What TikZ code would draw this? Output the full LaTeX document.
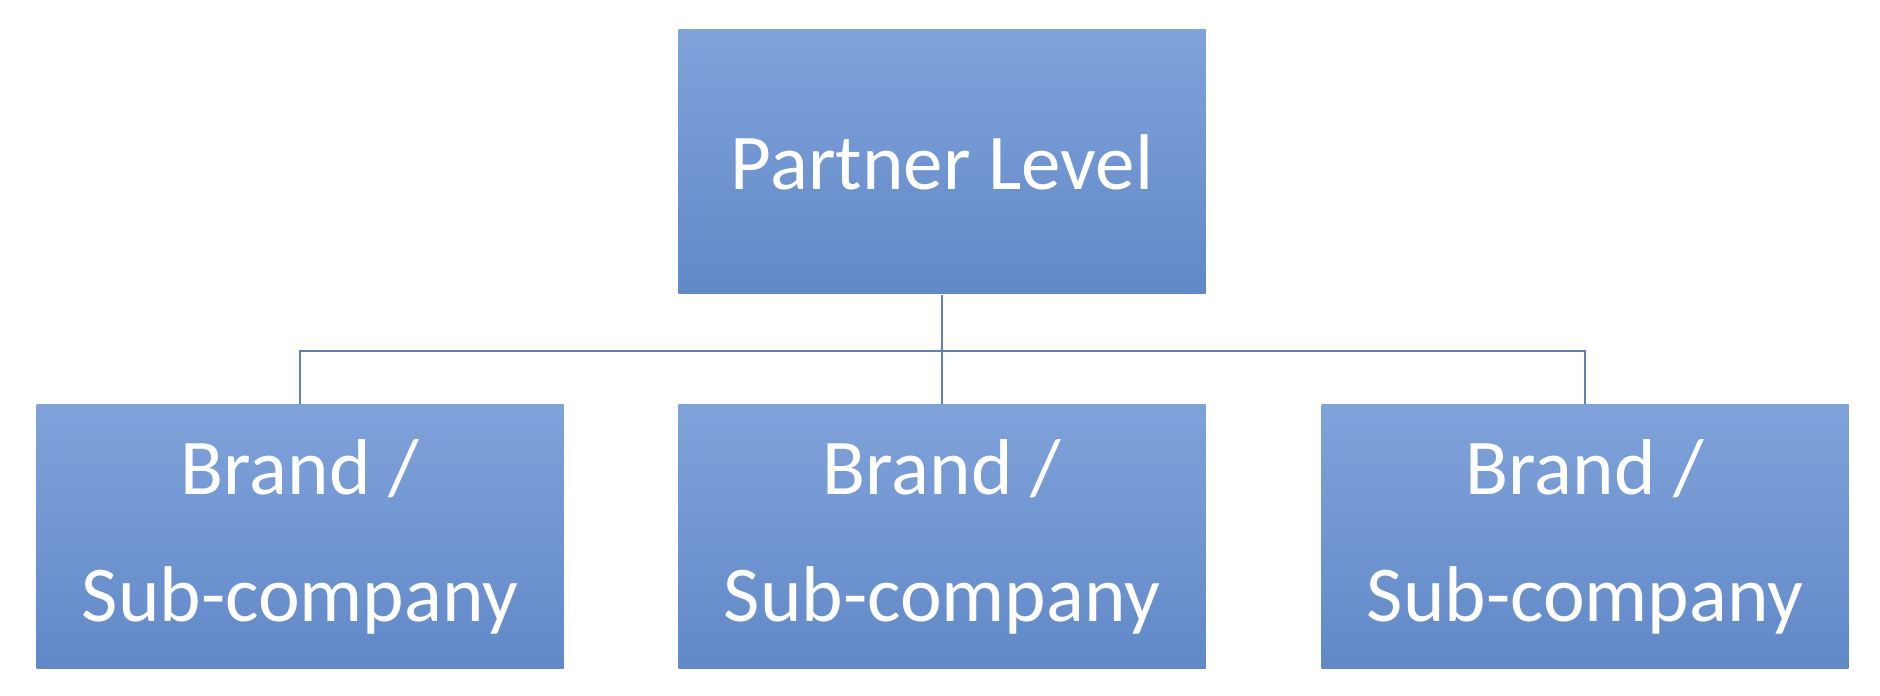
\documentclass[tikz,border=0pt]{standalone}
\usepackage{fontspec}
\setmainfont{Carlito}
\usetikzlibrary{positioning,calc}
\definecolor{boxtop}{HTML}{80A2DA}
\definecolor{boxbot}{HTML}{6189C8}
\definecolor{linkcol}{HTML}{6480AE}
\begin{document}
\begin{tikzpicture}[
        box/.style={rectangle, top color=boxtop, bottom color=boxbot, draw=none, align=center, text=white, font=\fontsize{22.5}{36}\selectfont, minimum width=5.27cm, minimum height=2.64cm, inner sep=0pt},
        link/.style={draw=linkcol, line width=0.6pt}
    ]
        \useasboundingbox (0,0) rectangle (18.8,6.96);
        \node[box] (partner) at (9.42,5.34) {Partner Level};
        \node[box] (brandA) at (3.00,1.59) {Brand /\\Sub-company};
        \node[box] (brandB) at (9.42,1.59) {Brand /\\Sub-company};
        \node[box] (brandC) at (15.85,1.59) {Brand /\\Sub-company};
        \coordinate (split) at (9.42,3.45);
        \draw[link] (partner) -- (split);
        \draw[link] (split) -| (brandA);
        \draw[link] (split) -- (brandB);
        \draw[link] (split) -| (brandC);
    \end{tikzpicture}
\end{document}
